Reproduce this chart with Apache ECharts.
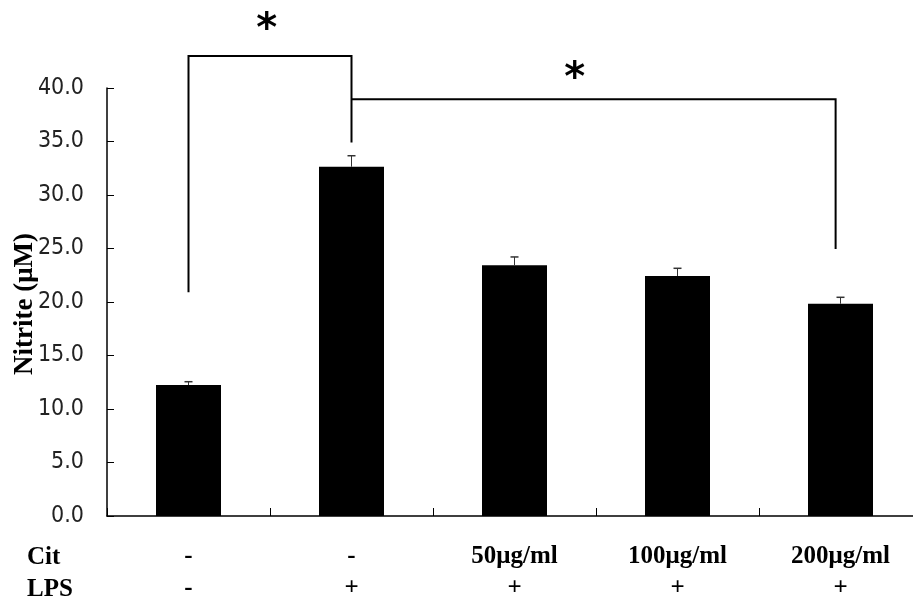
<!DOCTYPE html>
<html>
<head>
<meta charset="utf-8">
<script src="https://cdn.jsdelivr.net/npm/echarts@6/dist/echarts.min.js"></script>
<style>
html,body{margin:0;padding:0;background:#fff;}
#chart{width:913px;height:601px;}
</style>
</head>
<body>
<div id="chart"></div>
<script>
// ---- data ----
const categories = ['Control', 'LPS', 'Cit 50', 'Cit 100', 'Cit 200'];
const citLabels = ['-', '-', '50μg/ml', '100μg/ml', '200μg/ml'];
const lpsLabels = ['-', '+', '+', '+', '+'];
const nitrite = [12.24, 32.64, 23.43, 22.43, 19.84];
const nitriteErr = [0.31, 1.03, 0.78, 0.72, 0.60];
const yMin = 0, yMax = 40, yStep = 5;
// significance brackets: [category position (may be fractional), value]
const bracket1 = [[0, 20.9], [0, 43.0], [1, 43.0], [1, 34.9]];
const bracket2 = [[1, 38.94], [3.97, 38.94], [3.97, 24.95]];
// stars: [category position, value]
const stars = [[0.48, 45.35], [2.37, 40.75]];

const chart = echarts.init(document.getElementById('chart'), null, {renderer: 'canvas'});

const serifBold = 'bold 25px "Liberation Serif", "Times New Roman", serif';

// map a fractional category position + value to pixels via the axes
function coordAt(api, pos, value) {
  const i0 = Math.floor(pos), i1 = Math.min(i0 + 1, categories.length - 1);
  const a = api.coord([i0, value]);
  const b = api.coord([i1, value]);
  const f = pos - i0;
  return [a[0] + (b[0] - a[0]) * f, a[1]];
}

const option = {
  animation: false,
  backgroundColor: '#ffffff',
  grid: {left: 107, top: 88, width: 815, height: 428, outerBoundsMode: 'none', containLabel: false},
  xAxis: {
    type: 'category',
    data: categories,
    axisLine: {show: true, lineStyle: {color: '#000', width: 1.5}},
    axisTick: {show: true, inside: true, length: 8, lineStyle: {color: '#000', width: 1}},
    axisLabel: {
      margin: 25,
      interval: 0,
      formatter: function (v, idx) { return citLabels[idx] + '\n' + lpsLabels[idx]; },
      fontFamily: '"Liberation Serif", "Times New Roman", serif',
      fontWeight: 'bold',
      fontSize: 25,
      lineHeight: 32,
      color: '#000'
    },
    splitLine: {show: false}
  },
  yAxis: {
    type: 'value',
    min: yMin, max: yMax, interval: yStep,
    axisLine: {show: true, lineStyle: {color: '#000', width: 1.5}},
    axisTick: {show: true, inside: true, length: 7, lineStyle: {color: '#000', width: 1}},
    axisLabel: {
      margin: 23,
      formatter: function (v) { return v.toFixed(1); },
      fontFamily: '"DejaVu Sans Condensed", "Liberation Sans Narrow", sans-serif',
      fontSize: 23,
      color: '#222'
    },
    splitLine: {show: false}
  },
  graphic: [
    {type: 'text', x: 25, y: 304, rotation: Math.PI / 2,
     style: {text: 'Nitrite (μM)', font: 'bold 27px "Liberation Serif", serif', fill: '#000', align: 'center', verticalAlign: 'middle'}},
    {type: 'text', x: 27, y: 558,
     style: {text: 'Cit', font: serifBold, fill: '#000', align: 'left', verticalAlign: 'middle'}},
    {type: 'text', x: 27, y: 590,
     style: {text: 'LPS', font: serifBold, fill: '#000', align: 'left', verticalAlign: 'middle'}}
  ],
  series: [
    {
      type: 'bar',
      data: nitrite,
      barWidth: 65,
      itemStyle: {color: '#000'},
      z: 2
    },
    {
      type: 'custom',
      z: 3,
      data: nitrite.map(function (v, i) { return [i, v, nitriteErr[i]]; }),
      renderItem: function (params, api) {
        const i = api.value(0), v = api.value(1), e = api.value(2);
        const p0 = api.coord([i, v]);
        const p1 = api.coord([i, v + e]);
        const cap = 4;
        return {
          type: 'group',
          children: [
            {type: 'line', shape: {x1: p0[0], y1: p0[1], x2: p1[0], y2: p1[1]}, style: {stroke: '#333', lineWidth: 1}},
            {type: 'line', shape: {x1: p1[0] - cap, y1: p1[1], x2: p1[0] + cap, y2: p1[1]}, style: {stroke: '#333', lineWidth: 1.5}}
          ]
        };
      }
    },
    {
      type: 'custom',
      z: 4,
      clip: false,
      data: [[0]],
      renderItem: function (params, api) {
        const children = [];
        [bracket1, bracket2].forEach(function (br) {
          const pts = br.map(function (p) { return coordAt(api, p[0], p[1]); });
          children.push({type: 'polyline', shape: {points: pts}, style: {stroke: '#000', lineWidth: 2, fill: null}});
        });
        stars.forEach(function (s) {
          const p = coordAt(api, s[0], s[1]);
          children.push({type: 'text', x: p[0], y: p[1],
            style: {text: '*', font: 'bold 40px "DejaVu Sans", sans-serif', fill: '#000', align: 'center', verticalAlign: 'middle'}});
        });
        return {type: 'group', children: children};
      }
    }
  ]
};
chart.setOption(option);
</script>
</body>
</html>
